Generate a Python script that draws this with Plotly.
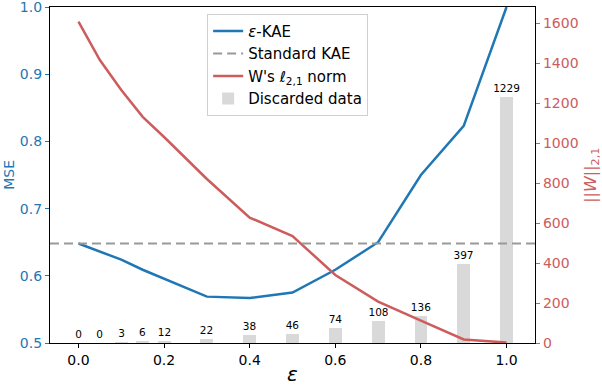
import plotly.graph_objects as go
from plotly.subplots import make_subplots

# epsilon values
eps = [0.0, 0.05, 0.1, 0.15, 0.2, 0.3, 0.4, 0.5, 0.6, 0.7, 0.8, 0.9, 1.0]
# MSE of eps-KAE
mse_eps_kae = [0.648, 0.636, 0.624, 0.609, 0.596, 0.569, 0.567, 0.575, 0.609, 0.650, 0.750, 0.823, 1.0]
# MSE of standard KAE (constant)
mse_standard = 0.648
# W's l2,1 norm
w_norm = [1607, 1415, 1265, 1131, 1030, 820, 627, 535, 340, 207, 112, 18, 2]
# discarded data counts
discarded = [0, 0, 3, 6, 12, 22, 38, 46, 74, 108, 136, 397, 1229]

blue = '#1f77b4'
red = '#cd5c5c'
font_fam = 'DejaVu Sans'

fig = make_subplots(specs=[[{'secondary_y': True}]])

fig.add_trace(go.Scatter(x=eps, y=mse_eps_kae, name='<i>ε</i>-KAE', mode='lines',
                         line=dict(color=blue, width=2.5), legendrank=1), secondary_y=False)
fig.add_trace(go.Scatter(x=eps, y=w_norm, name="W's ℓ<sub>2,1</sub> norm", mode='lines',
                         line=dict(color=red, width=2.5), legendrank=3), secondary_y=True)
fig.add_trace(go.Bar(x=eps, y=discarded, name='Discarded data', width=0.03,
                     marker=dict(color='#d9d9d9', line=dict(width=0)),
                     text=[str(v) for v in discarded], textposition='outside',
                     constraintext='none', cliponaxis=False,
                     textfont=dict(size=10.5, color='black', family=font_fam),
                     legendrank=4), secondary_y=True)

fig.add_shape(type='line', xref='x domain', x0=0, x1=1, yref='y', y0=mse_standard, y1=mse_standard,
              line=dict(color='#999999', width=2, dash='9px,5px'), layer='above',
              showlegend=True, name='Standard KAE', legendrank=2)

# axis titles as annotations for exact placement
fig.add_annotation(text='MSE', xref='paper', yref='paper', x=-0.085, y=0.5, showarrow=False,
                   textangle=-90, font=dict(color=blue, size=14), xanchor='center', yanchor='middle')
fig.add_annotation(text='||<i>W</i>||<sub>2,1</sub>', xref='paper', yref='paper', x=1.115, y=0.5,
                   showarrow=False, textangle=-90, font=dict(color=red, size=16),
                   xanchor='center', yanchor='middle')
fig.add_annotation(text='<i>ε</i>', xref='paper', yref='paper', x=0.5, y=-0.092, showarrow=False,
                   font=dict(size=20), xanchor='center', yanchor='middle')

fig.update_layout(
    width=602, height=386,
    margin=dict(l=50, r=67, t=7, b=43, autoexpand=False),
    plot_bgcolor='white', paper_bgcolor='white',
    font=dict(family=font_fam, size=14, color='black'),
    bargap=0,
    legend=dict(x=0.324, y=0.98, xanchor='left', yanchor='top',
                bordercolor='#d0d0d0', borderwidth=1, bgcolor='rgba(255,255,255,0.8)',
                font=dict(size=15), tracegroupgap=4),
)

fig.update_xaxes(domain=[0, 1], range=[-0.0665, 1.0665], tickvals=[0, 0.2, 0.4, 0.6, 0.8, 1.0],
                 tickformat='.1f', showgrid=False, zeroline=False, showline=True, linecolor='black',
                 linewidth=1.3, mirror=True, ticks='outside', ticklen=4, tickcolor='black',
                 automargin=False, ticklabeloverflow='allow')
fig.update_yaxes(range=[0.5, 1.0], tickvals=[0.5, 0.6, 0.7, 0.8, 0.9, 1.0], tickformat='.1f',
                 showgrid=False, zeroline=False,
                 showline=True, linecolor='black', linewidth=1.3, ticks='outside', ticklen=4,
                 tickcolor=blue, tickfont=dict(color=blue), automargin=False,
                 ticklabeloverflow='allow', secondary_y=False)
fig.update_yaxes(range=[0, 1680], tickvals=[0, 200, 400, 600, 800, 1000, 1200, 1400, 1600],
                 showgrid=False, zeroline=False, showline=True, linecolor='black', linewidth=1.3,
                 ticks='outside', ticklen=4, tickcolor=red, tickfont=dict(color=red), automargin=False,
                 ticklabeloverflow='allow', secondary_y=True)

fig.write_html('out.html', config={'displayModeBar': False},
               post_script="document.body.style.margin='0';")
